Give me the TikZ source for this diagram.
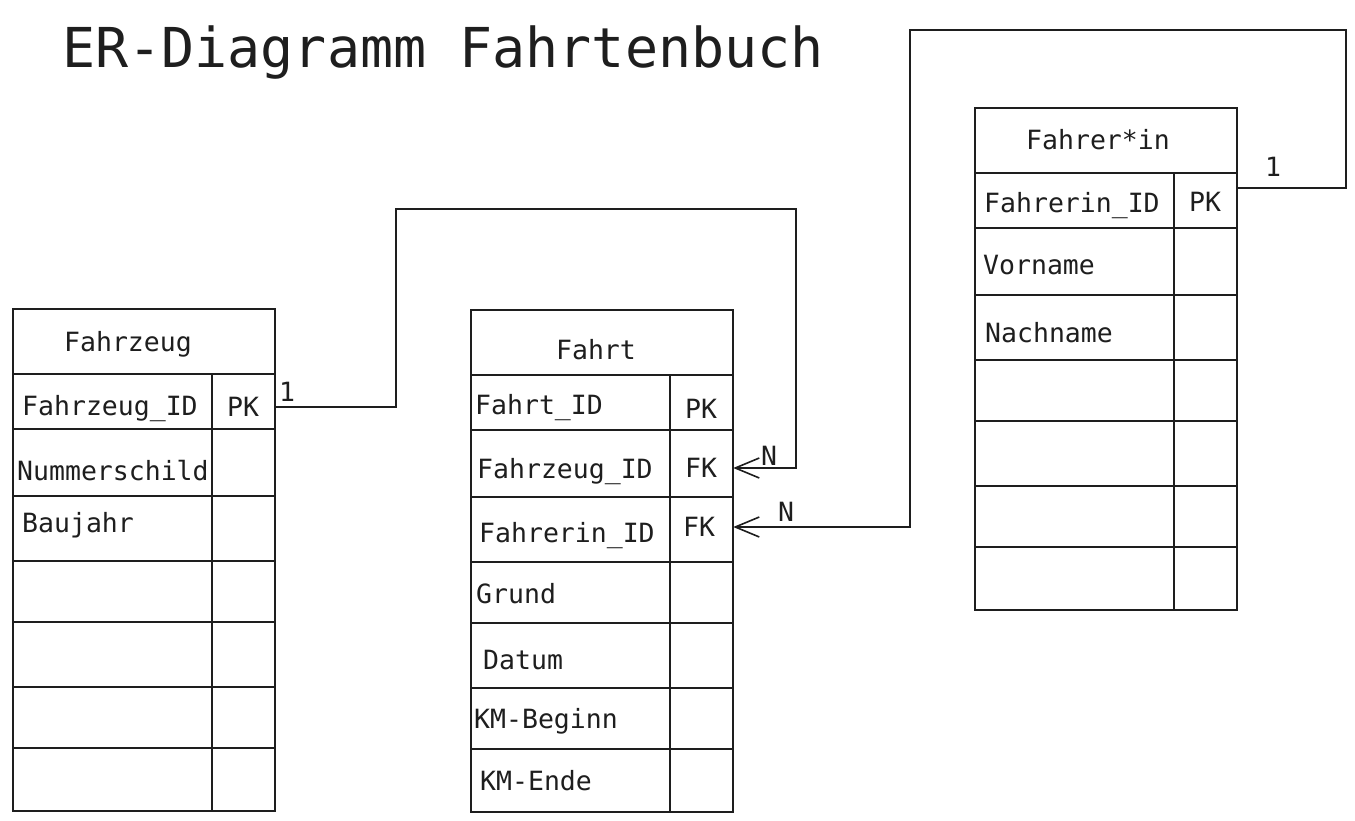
\documentclass[tikz,border=0pt]{standalone}
\usepackage{fontspec}
\setmonofont{DejaVu Sans Mono}
\usetikzlibrary{arrows.meta, positioning}
\definecolor{inkgray}{RGB}{30, 30, 30}
\tikzset{
  tableline/.style={line width=1.8pt, inkgray},
  relarrow/.style={-{Straight Barb[length=24pt, width=20pt]}, line width=1.6pt, inkgray}
}

% table frame: name, x, y (top left), title
\newcommand{\ertable}[4]{
  \node[tablebox] (#1) at (#2,#3) {};
  \foreach \r in {66,121,188,253,314,379,440}
    \draw[tableline] ([yshift=-\r pt]#1.north west) -- ([yshift=-\r pt]#1.north east);
  \draw[tableline] ([xshift=200pt, yshift=-66pt]#1.north west) -- ([xshift=200pt]#1.south west);
}

\begin{document}
\begin{tikzpicture}[
    x=1pt, y=-1pt,
    tablebox/.style={rectangle, draw=inkgray, line width=1.8pt, anchor=north west, inner sep=0pt, minimum width=262pt, minimum height=502pt},
    attr/.style={anchor=base west, inner sep=0pt, text=inkgray, font=\ttfamily\fontsize{26.5}{30}\selectfont},
    head/.style={anchor=base, inner sep=0pt, text=inkgray, font=\ttfamily\fontsize{26.5}{30}\selectfont},
    keycell/.style={inner sep=0pt, minimum width=62pt, text height=19pt, text depth=0pt, text=inkgray, font=\ttfamily\fontsize{26.5}{30}\selectfont},
    card/.style={anchor=base, inner sep=0pt, text=inkgray, font=\ttfamily\fontsize{26.5}{30}\selectfont}
]
    \useasboundingbox (0,0) rectangle (1355,821);

    \node[anchor=base west, inner sep=0pt, text=inkgray, font=\ttfamily\fontsize{55}{60}\selectfont] (title) at (62,68) {ER-Diagramm Fahrtenbuch};

    % Fahrzeug
    \ertable{fz}{12}{308}{Fahrzeug}
    \node[head] (fz-title) at (128,351) {Fahrzeug};
    \node[attr] (fz-id) at (22,415) {Fahrzeug\_ID};
    \node[keycell] (fz-pk) at (243,407) {PK};
    \node[attr] (fz-nr) at (17,480) {Nummerschild};
    \node[attr] (fz-bj) at (22,532) {Baujahr};

    % Fahrt
    \ertable{fa}{470}{309}{Fahrt}
    \node[head] (fa-title) at (596,359) {Fahrt};
    \node[attr] (fa-id) at (475,414) {Fahrt\_ID};
    \node[keycell] (fa-pk) at (701,409) {PK};
    \node[attr] (fa-fz) at (477,478) {Fahrzeug\_ID};
    \node[keycell] (fa-fzfk) at (701,468) {FK};
    \node[attr] (fa-fr) at (479,542) {Fahrerin\_ID};
    \node[keycell] (fa-frfk) at (699,527) {FK};
    \node[attr] (fa-gr) at (476,603) {Grund};
    \node[attr] (fa-dt) at (483,669) {Datum};
    \node[attr] (fa-kb) at (474,728) {KM-Beginn};
    \node[attr] (fa-ke) at (480,790) {KM-Ende};

    % Fahrer*in
    \ertable{fr}{974}{107}{Fahrer*in}
    \node[head] (fr-title) at (1098,150) {Fahrer*in};
    \node[attr] (fr-id) at (984,213) {Fahrerin\_ID};
    \node[keycell] (fr-pk) at (1205,202) {PK};
    \node[attr] (fr-vn) at (983,275) {Vorname};
    \node[attr] (fr-nn) at (985,342) {Nachname};

    % relations
    \draw[relarrow] (fz-pk.east) -- ++(122,0) |- (796,209) |- ([xshift=1pt]fa-fzfk.east);
    \draw[relarrow] ([yshift=14pt]fr-pk.east) -- ++(110,0) |- (910,30) |- ([xshift=3pt]fa-frfk.east);

    \node[card] (c1a) at (287,401) {1};
    \node[card] (cna) at (769,465) {N};
    \node[card] (c1b) at (1273,177) {1};
    \node[card] (cnb) at (786,521) {N};
\end{tikzpicture}
\end{document}
